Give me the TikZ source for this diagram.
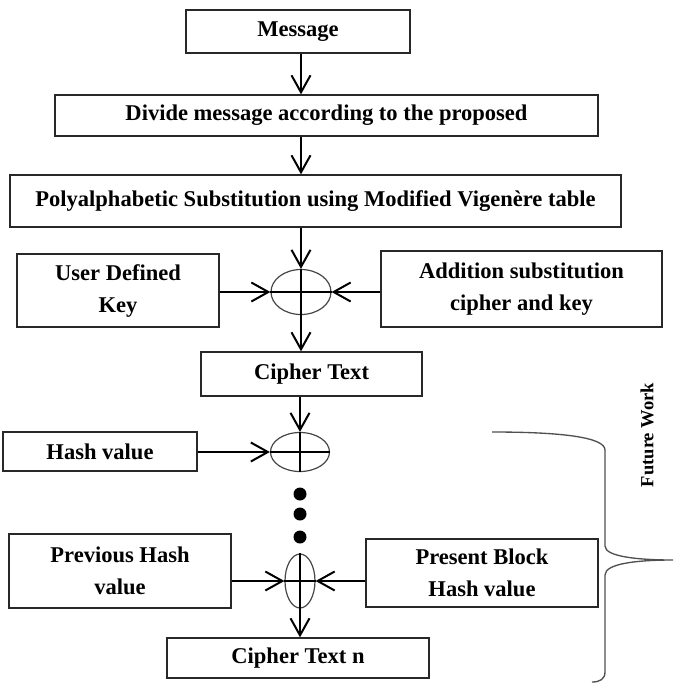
\documentclass[tikz,border=0pt]{standalone}
\usepackage{fontspec}
\setmainfont{Liberation Serif}
\usetikzlibrary{arrows.meta,shapes.geometric}

\tikzset{
  flowbox/.style={draw={rgb,255:red,40;green,40;blue,40},line width=1pt,inner sep=2pt,align=center,
    font=\fontsize{16.9}{24}\selectfont\bfseries},
  xorop/.style={ellipse,draw={rgb,255:red,70;green,70;blue,70},line width=0.9pt,inner sep=0pt},
  flowarrow/.style={line width=1.5pt,-{Straight Barb[length=12.75pt,width=14.25pt]}},
}

\begin{document}
\begin{tikzpicture}[x=0.75pt,y=0.75pt,yscale=-1,xscale=1]
\useasboundingbox (0,0) rectangle (674,683);

%Boxes
\node [flowbox,minimum width=168pt,minimum height=32.25pt] (msg) at (298,31.5) {Message};
\node [flowbox,minimum width=407.25pt,minimum height=30.75pt] (div) at (326.5,115.5) {Divide message according to the proposed};
\node [flowbox,minimum width=458.25pt,minimum height=39pt] (poly) at (315.5,201) {Polyalphabetic Substitution using Modified Vigenère table};
\node [flowbox,minimum width=151.5pt,minimum height=54.75pt] (ukey) at (118,290.5) {User Defined\\Key};
\node [flowbox,minimum width=210.75pt,minimum height=57pt] (addk) at (521.5,289) {Addition substitution\\cipher and key};
\node [flowbox,minimum width=165.75pt,minimum height=33pt] (ctext) at (311.5,374) {Cipher Text};
\node [flowbox,minimum width=145.5pt,minimum height=29.25pt] (hash) at (100,451.5) {Hash value};
\node [flowbox,minimum width=166.5pt,minimum height=55.5pt] (prevh) at (120,571) {Previous Hash\\value};
\node [flowbox,minimum width=174pt,minimum height=51pt] (presh) at (482,573) {Present Block\\Hash value};
\node [flowbox,minimum width=196.5pt,minimum height=30pt] (ctextn) at (298,658) {Cipher Text n};

%Combiners
\node [xorop,minimum width=45pt,minimum height=33.75pt] (xa) at (301,292) {};
\node [xorop,minimum width=44.25pt,minimum height=29.25pt] (xb) at (300,452) {};
\node [xorop,minimum width=22.5pt,minimum height=40.5pt] (xc) at (300,581) {};
\foreach \x in {xa,xb,xc}
  \draw [line width=0.9pt] (\x.north) -- (\x.south) (\x.west) -- (\x.east);

%Dots
\foreach \y in {494,514,537}
  \fill (300,\y) circle (6.5);

%Arrows
\draw [flowarrow] (msg.south -| xa) -- (div.north -| xa);
\draw [flowarrow] (div.south -| xa) -- (poly.north -| xa);
\draw [flowarrow] (poly.south -| xa) -- (xa.north);
\draw [flowarrow] (ukey.east |- xa) -- (xa.west);
\draw [flowarrow] (addk.west |- xa) -- (xa.east);
\draw [flowarrow] (xa.south) -- (ctext.north -| xa);
\draw [flowarrow] (ctext.south -| xb) -- (xb.north);
\draw [flowarrow] (hash.east |- xb) -- (xb.west);
\draw [flowarrow] (prevh.east |- xc) -- (xc.west);
\draw [flowarrow] (presh.west |- xc) -- (xc.east);
\draw [flowarrow] (xc.south) -- (ctextn.north -| xc);

%Curly brace
\draw [color={rgb, 255:red, 80; green, 80; blue, 80 }, line width=1pt] (492,432) .. controls (560,432) and (605,437) .. (605,450) -- (605,546) .. controls (605,557) and (640,560) .. (673,560) .. controls (640,560) and (605,563) .. (605,575) -- (605,672) .. controls (605,679) and (600,682) .. (592,682);
\node [rotate=90,font=\fontsize{13.9}{16}\selectfont\bfseries] (fw) at (647,435) {Future Work};

\end{tikzpicture}
\end{document}
